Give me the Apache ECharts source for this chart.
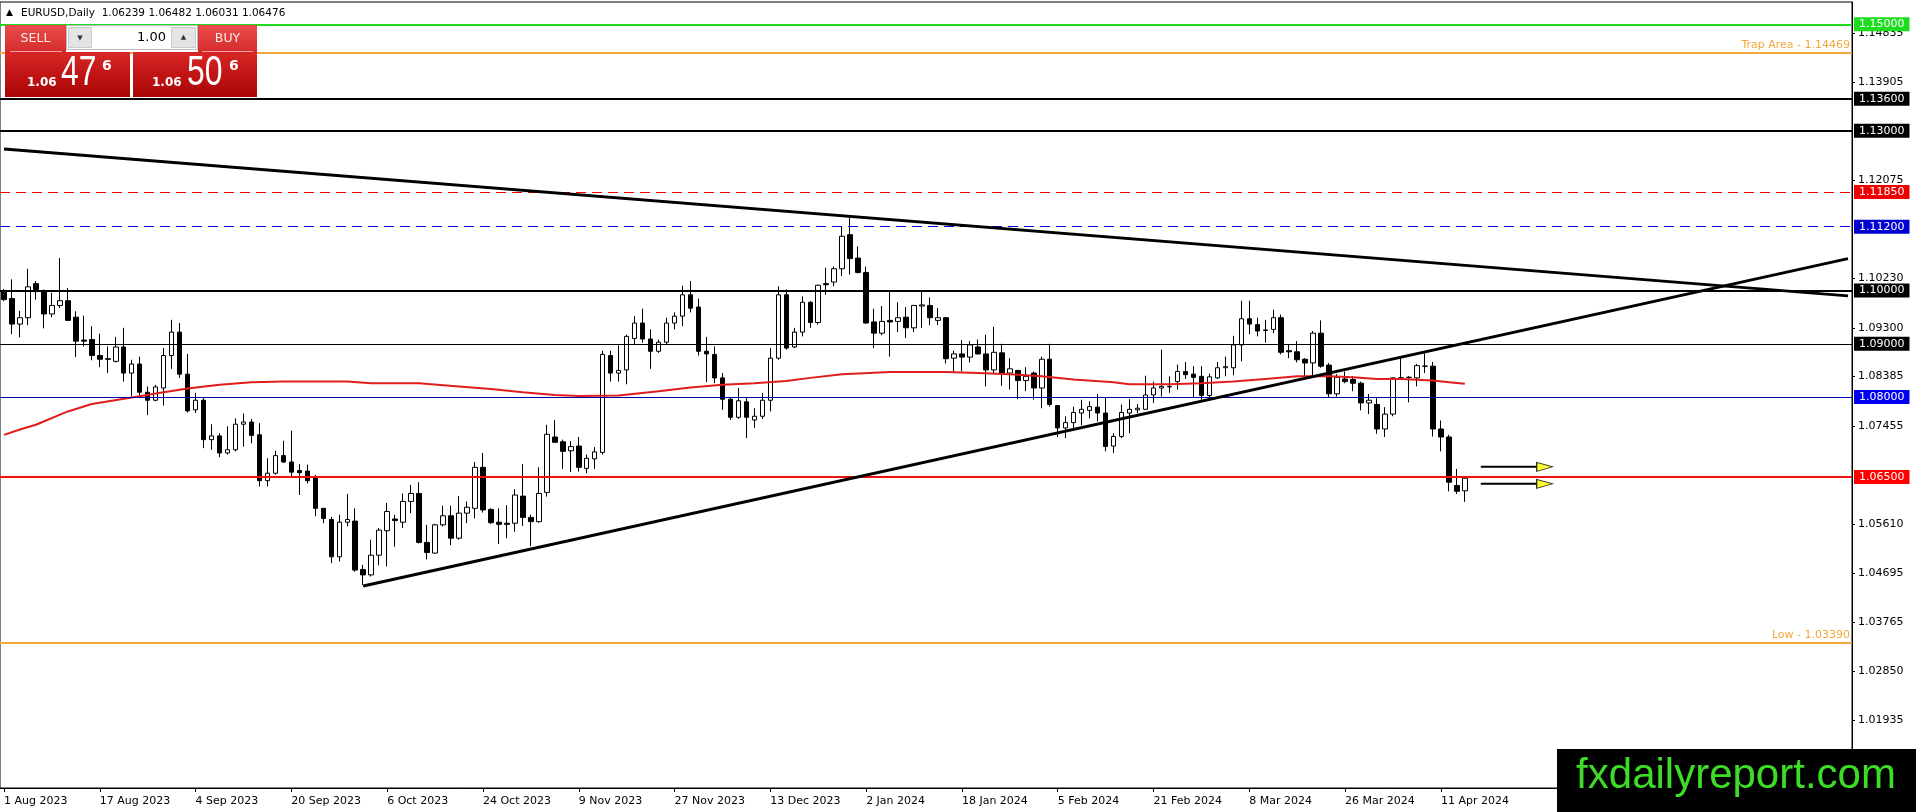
<!DOCTYPE html>
<html>
<head>
<meta charset="utf-8">
<title>EURUSD,Daily</title>
<script src="https://cdn.jsdelivr.net/npm/echarts@6/dist/echarts.min.js"></script>
<style>
html, body { margin: 0; padding: 0; background: #fff; }
#chart { width: 1916px; height: 812px; }
</style>
</head>
<body>
<div id="chart"></div>
<script>
// daily bars from 1 Aug 2023 to 16 Apr 2024
var opens = [
  1.0998,1.0985,1.0937,1.0949,1.1013,1.0999,1.0956,1.0972,1.0981,1.0950,
  1.0907,1.0908,1.0878,1.0872,1.0867,1.0894,1.0845,1.0862,1.0809,1.0794,
  1.0817,1.0878,1.0922,1.0843,1.0776,1.0794,1.0720,1.0727,1.0695,1.0701,
  1.0749,1.0753,1.0729,1.0643,1.0657,1.0690,1.0678,1.0662,1.0661,1.0648,
  1.0591,1.0570,1.0500,1.0565,1.0567,1.0476,1.0466,1.0503,1.0549,1.0571,
  1.0565,1.0604,1.0619,1.0527,1.0507,1.0560,1.0577,1.0535,1.0582,1.0591,
  1.0668,1.0589,1.0565,1.0563,1.0563,1.0614,1.0574,1.0566,1.0621,1.0725,
  1.0716,1.0699,1.0708,1.0666,1.0684,1.0696,1.0878,1.0845,1.0851,1.0910,
  1.0939,1.0909,1.0886,1.0903,1.0939,1.0952,1.0992,1.0969,1.0886,1.0880,
  1.0836,1.0796,1.0762,1.0791,1.0757,1.0764,1.0794,1.0873,1.0992,1.0894,
  1.0922,1.0978,1.0940,1.1013,1.1016,1.1041,1.1105,1.1061,1.1034,1.0941,
  1.0920,1.0944,1.0942,1.0950,1.0930,1.0971,1.0972,1.0944,1.0949,1.0873,
  1.0881,1.0875,1.0894,1.0881,1.0851,1.0883,1.0845,1.0850,1.0831,1.0845,
  1.0817,1.0871,1.0784,1.0742,1.0752,1.0770,1.0775,1.0781,1.0770,1.0708,
  1.0726,1.0770,1.0776,1.0777,1.0804,1.0817,1.0819,1.0829,1.0848,1.0843,
  1.0839,1.0803,1.0836,1.0855,1.0855,1.0898,1.0947,1.0936,1.0926,1.0927,
  1.0949,1.0887,1.0885,1.0871,1.0864,1.0920,1.0860,1.0806,1.0834,1.0833,
  1.0826,1.0789,1.0786,1.0740,1.0768,1.0836,1.0837,1.0836,1.0858,1.0858,
  1.0740,1.0725,1.0634,1.06239
];
var highs = [
  1.1003,1.1021,1.0962,1.1041,1.1018,1.1002,1.0996,1.1061,1.1005,1.0961,
  1.0953,1.0933,1.0919,1.0895,1.0913,1.0930,1.0870,1.0876,1.0820,1.0823,
  1.0892,1.0945,1.0939,1.0881,1.0808,1.0798,1.0749,1.0732,1.0745,1.0760,
  1.0769,1.0759,1.0751,1.0685,1.0699,1.0718,1.0737,1.0674,1.0673,1.0654,
  1.0591,1.0575,1.0579,1.0618,1.0591,1.0485,1.0532,1.0554,1.0601,1.0579,
  1.0619,1.0635,1.0640,1.0560,1.0562,1.0596,1.0596,1.0614,1.0604,1.0678,
  1.0695,1.0591,1.0591,1.0597,1.0627,1.0674,1.0579,1.0668,1.0748,1.0757,
  1.0720,1.0717,1.0725,1.0692,1.0706,1.0887,1.0887,1.0897,1.0917,1.0952,
  1.0966,1.0927,1.0908,1.0949,1.0959,1.1009,1.1018,1.0985,1.0913,1.0895,
  1.0845,1.0798,1.0817,1.0798,1.0779,1.0808,1.0892,1.1008,1.1002,1.0930,
  1.0989,1.0980,1.1011,1.1043,1.1045,1.1121,1.1137,1.1083,1.1045,1.0966,
  1.0971,1.0997,1.0978,1.0969,1.0973,1.0999,1.0987,1.0967,1.0950,1.0887,
  1.0907,1.0905,1.0908,1.0917,1.0932,1.0900,1.0873,1.0851,1.0856,1.0848,
  1.0876,1.0900,1.0784,1.0764,1.0782,1.0795,1.0792,1.0806,1.0800,1.0732,
  1.0786,1.0796,1.0787,1.0840,1.0829,1.0889,1.0839,1.0861,1.0866,1.0858,
  1.0858,1.0844,1.0866,1.0876,1.0915,1.0981,1.0981,1.0949,1.0945,1.0964,
  1.0955,1.0898,1.0905,1.0873,1.0924,1.0944,1.0864,1.0843,1.0848,1.0839,
  1.0829,1.0806,1.0798,1.0781,1.0837,1.0873,1.0839,1.0862,1.0882,1.0866,
  1.0756,1.0729,1.0665,1.06482
];
var lows = [
  1.0980,1.0918,1.0912,1.0935,1.0983,1.0929,1.0950,1.0967,1.0943,1.0875,
  1.0895,1.0869,1.0856,1.0845,1.0865,1.0829,1.0801,1.0801,1.0766,1.0792,
  1.0784,1.0853,1.0836,1.0771,1.0770,1.0704,1.0701,1.0687,1.0692,1.0698,
  1.0707,1.0713,1.0632,1.0632,1.0654,1.0676,1.0651,1.0616,1.0638,1.0576,
  1.0563,1.0488,1.0491,1.0557,1.0472,1.0447,1.0463,1.0484,1.0482,1.0519,
  1.0554,1.0582,1.0525,1.0495,1.0506,1.0557,1.0522,1.0532,1.0563,1.0572,
  1.0583,1.0562,1.0524,1.0535,1.0547,1.0558,1.0520,1.0564,1.0613,1.0715,
  1.0665,1.0659,1.0660,1.0657,1.0665,1.0692,1.0829,1.0829,1.0824,1.0898,
  1.0902,1.0853,1.0883,1.0898,1.0927,1.0933,1.0959,1.0878,1.0828,1.0826,
  1.0776,1.0757,1.0759,1.0723,1.0742,1.0759,1.0773,1.0870,1.0889,1.0892,
  1.0914,1.0930,1.0936,1.0992,1.1008,1.1027,1.1030,1.1032,1.0938,1.0892,
  1.0916,1.0876,1.0922,1.0911,1.0922,1.0930,1.0935,1.0935,1.0863,1.0848,
  1.0848,1.0865,1.0880,1.0820,1.0845,1.0821,1.0814,1.0796,1.0811,1.0795,
  1.0779,1.0782,1.0725,1.0723,1.0739,1.0747,1.0760,1.0754,1.0698,1.0695,
  1.0723,1.0732,1.0770,1.0776,1.0789,1.0801,1.0808,1.0814,1.0834,1.0798,
  1.0795,1.0798,1.0834,1.0839,1.0841,1.0867,1.0918,1.0914,1.0902,1.0920,
  1.0880,1.0873,1.0865,1.0839,1.0839,1.0855,1.0800,1.0801,1.0826,1.0811,
  1.0775,1.0768,1.0731,1.0725,1.0764,1.0833,1.0790,1.0820,1.0845,1.0726,
  1.0698,1.0623,1.0618,1.06031
];
var closes = [
  1.0983,1.0937,1.0949,1.1007,1.1002,1.0956,1.0972,1.0981,1.0944,1.0905,
  1.0905,1.0878,1.0871,1.0871,1.0894,1.0845,1.0862,1.0809,1.0794,1.0819,
  1.0878,1.0922,1.0843,1.0774,1.0794,1.0720,1.0727,1.0695,1.0701,1.0749,
  1.0753,1.0728,1.0643,1.0657,1.0690,1.0678,1.0659,1.0658,1.0643,1.0591,
  1.0572,1.0500,1.0565,1.0570,1.0475,1.0466,1.0503,1.0550,1.0585,1.0568,
  1.0604,1.0619,1.0527,1.0508,1.0560,1.0577,1.0535,1.0582,1.0593,1.0668,
  1.0588,1.0564,1.0561,1.0561,1.0616,1.0574,1.0566,1.0619,1.0730,1.0715,
  1.0698,1.0707,1.0668,1.0685,1.0697,1.0880,1.0845,1.0850,1.0914,1.0939,
  1.0909,1.0886,1.0903,1.0939,1.0952,1.0992,1.0967,1.0886,1.0881,1.0836,
  1.0796,1.0762,1.0793,1.0762,1.0764,1.0794,1.0873,1.0992,1.0892,1.0922,
  1.0978,1.0940,1.1010,1.1011,1.1041,1.1102,1.1060,1.1034,1.0939,1.0920,
  1.0942,1.0941,1.0949,1.0930,1.0972,1.0973,1.0949,1.0949,1.0872,1.0881,
  1.0875,1.0898,1.0881,1.0851,1.0884,1.0845,1.0853,1.0831,1.0839,1.0817,
  1.0871,1.0786,1.0742,1.0752,1.0771,1.0777,1.0782,1.0770,1.0707,1.0726,
  1.0771,1.0777,1.0779,1.0804,1.0817,1.0820,1.0820,1.0848,1.0842,1.0837,
  1.0803,1.0838,1.0855,1.0857,1.0898,1.0947,1.0937,1.0924,1.0925,1.0949,
  1.0884,1.0885,1.0870,1.0864,1.0920,1.0858,1.0806,1.0837,1.0829,1.0826,
  1.0789,1.0794,1.0740,1.0768,1.0836,1.0836,1.0837,1.0859,1.0858,1.0740,
  1.0725,1.0640,1.0623,1.06476
];

// red moving average, sampled at these bar numbers
var maBars = [0,2,4,8,11,16,20,23,27,31,35,43,46,52,57,61,65,69,72,77,82,86,90,94,98,
  101,105,111,118,122,126,130,134,139,141,146,150,154,158,162,166,169,172,175,179,181,183];
var maValues = [1.0729,1.0739,1.0748,1.0773,1.0787,1.0799,1.0809,1.0816,1.0823,1.0828,1.0829,
  1.0829,1.0826,1.0826,1.0820,1.0815,1.0809,1.0804,1.0802,1.0803,1.0811,1.0818,1.0823,1.0826,
  1.0830,1.0836,1.0843,1.0847,1.0847,1.0845,1.0843,1.0839,1.0833,1.0828,1.0824,1.0824,1.0826,
  1.0829,1.0834,1.0839,1.0839,1.0837,1.0834,1.0834,1.0831,1.0828,1.0825];

var xLabels = ['1 Aug 2023','17 Aug 2023','4 Sep 2023','20 Sep 2023','6 Oct 2023','24 Oct 2023',
  '9 Nov 2023','27 Nov 2023','13 Dec 2023','2 Jan 2024','18 Jan 2024','5 Feb 2024',
  '21 Feb 2024','8 Mar 2024','26 Mar 2024','11 Apr 2024'];
var priceTicks = [1.14835,1.13905,1.12075,1.10230,1.09300,1.08385,1.07455,1.05610,1.04695,1.03765,1.02850,1.01935];

// horizontal levels drawn on the chart
var levelPrices = [1.15000,1.14469,1.13600,1.13000,1.11850,1.11200,1.10000,1.09000,1.08000,1.06500,1.03390];
var levelNames = ['','Trap Area','','','','','','','','','Low'];

// trend lines [bar, price]
var trendDown = [[0,1.1266],[231,1.0990]];
var trendUp = [[45,1.0445],[231,1.1060]];
var arrowPrices = [1.0669,1.0637];
var arrowBars = [185,192,193];

var totalSlots = 232;
var yMin = 1.00658, yMax = 1.15419;

var FONT = 'DejaVu Sans';

var cats = [];
for (var i = 0; i < totalSlots; i++) { cats.push(String(i)); }

var candles = [];
for (var i = 0; i < opens.length; i++) {
    candles.push([opens[i], closes[i], lows[i], highs[i]]);
}

var maData = [];
for (var i = 0; i < maBars.length; i++) { maData.push([maBars[i], maValues[i]]); }

// look of each level line
var levelLook = [
    {c:'#1edc1e', w:2, t:'solid', tag:true},
    {c:'#f2a63c', w:2, t:'solid', tag:false},
    {c:'#000000', w:2, t:'solid', tag:true},
    {c:'#000000', w:2, t:'solid', tag:true},
    {c:'#ee0000', w:1, t:[10,6], tag:true},
    {c:'#0000d0', w:1, t:[10,6], tag:true},
    {c:'#000000', w:2, t:'solid', tag:true},
    {c:'#000000', w:1, t:'solid', tag:true},
    {c:'#0000a8', w:1, t:'solid', tag:true, bg:'#0000f0'},
    {c:'#ee1111', w:2, t:'solid', tag:true, bg:'#ff0000'},
    {c:'#f2a63c', w:2, t:'solid', tag:false}
];

var levelLines = [];
for (var i = 0; i < levelPrices.length; i++) {
    var lk = levelLook[i];
    var item = {
        yAxis: levelPrices[i],
        lineStyle: {color: lk.c, width: lk.w, type: lk.t}
    };
    if (lk.tag) {
        item.label = {
            show: true, position: 'end', distance: 2,
            formatter: levelPrices[i].toFixed(5),
            color: '#fff', backgroundColor: lk.bg || lk.c,
            padding: [1,5,1,5], fontFamily: FONT, fontSize: 11, lineHeight: 12
        };
    } else {
        item.label = {
            show: true, position: 'insideEndTop', distance: 2,
            formatter: levelNames[i] + ' - ' + levelPrices[i].toFixed(5),
            color: lk.c, fontFamily: FONT, fontSize: 11
        };
    }
    levelLines.push(item);
}

function showLabel(index) {
    return index % 12 === 0 && index / 12 < xLabels.length;
}

var series = [];
series.push({
    name: 'EURUSD', type: 'candlestick', data: candles, barWidth: 5,
    itemStyle: {color:'#ffffff', color0:'#000000', borderColor:'#000000', borderColor0:'#000000', borderWidth:1},
    markLine: {silent: true, precision: 5, symbol: ['none','none'], animation: false, data: levelLines},
    z: 3
});
series.push({
    name: 'MA', type: 'line', data: maData, showSymbol: false, symbol: 'none',
    lineStyle: {color:'#e01c1c', width: 2}, z: 4
});
series.push({
    name: 'down', type: 'line', data: trendDown, symbol: 'none',
    lineStyle: {color:'#000', width: 3}, z: 5
});
series.push({
    name: 'up', type: 'line', data: trendUp, symbol: 'none',
    lineStyle: {color:'#000', width: 3}, z: 5
});
for (var k = 0; k < arrowPrices.length; k++) {
    series.push({
        type: 'line', symbol: 'none', z: 6,
        data: [[arrowBars[0], arrowPrices[k]], [arrowBars[1], arrowPrices[k]]],
        lineStyle: {color:'#000', width: 2}
    });
    series.push({
        type: 'scatter', z: 7, data: [[arrowBars[2], arrowPrices[k]]],
        symbol: 'path://M0,0 L16,5 L0,10 Z', symbolSize: [16, 9],
        itemStyle: {color:'#ffff00', borderColor:'#000', borderWidth: 1}
    });
}

var redTab = {type:'linear', x:0, y:0, x2:0, y2:1,
    colorStops:[{offset:0, color:'#ea4c4c'}, {offset:1, color:'#d42c2c'}]};
var redBox = {type:'linear', x:0, y:0, x2:0, y2:1,
    colorStops:[{offset:0, color:'#d82626'}, {offset:1, color:'#a90404'}]};
var bigFont = "'Liberation Sans', sans-serif";

var graphics = [
    {type:'text', z: 100, x: 6, y: 13, style:{text:'\u25B2', font:'9px ' + FONT, fill:'#000', verticalAlign:'middle'}},
    {type:'text', z: 100, x: 21, y: 13, style:{text:'EURUSD,Daily  1.06239 1.06482 1.06031 1.06476', font:'10.5px ' + FONT, fill:'#000', verticalAlign:'middle'}},
    // sell / buy panel
    {type:'rect', z: 100, shape:{x:5, y:25, width:61, height:27}, style:{fill: redTab}},
    {type:'rect', z: 100, shape:{x:198, y:25, width:59, height:27}, style:{fill: redTab}},
    {type:'rect', z: 100, shape:{x:5, y:52, width:125, height:45}, style:{fill: redBox}},
    {type:'rect', z: 100, shape:{x:133, y:52, width:124, height:45}, style:{fill: redBox}},
    {type:'line', z: 101, shape:{x1:10, y1:51.5, x2:62, y2:51.5}, style:{stroke:'#f4a0a0', lineWidth:1}},
    {type:'line', z: 101, shape:{x1:202, y1:51.5, x2:253, y2:51.5}, style:{stroke:'#f4a0a0', lineWidth:1}},
    {type:'text', z: 101, x: 35.5, y: 39, style:{text:'SELL', font:'12.5px ' + FONT, fill:'#ffeaea', align:'center', verticalAlign:'middle'}},
    {type:'text', z: 101, x: 227.5, y: 39, style:{text:'BUY', font:'12.5px ' + FONT, fill:'#ffeaea', align:'center', verticalAlign:'middle'}},
    {type:'rect', z: 100, shape:{x:66.5, y:25.5, width:131, height:24}, style:{fill:'#ffffff', stroke:'#bcbcbc'}},
    {type:'rect', z: 101, shape:{x:68.5, y:27.5, width:23, height:20}, style:{fill:'#e4e4e4', stroke:'#cccccc'}},
    {type:'rect', z: 101, shape:{x:171.5, y:27.5, width:24, height:20}, style:{fill:'#e4e4e4', stroke:'#cccccc'}},
    {type:'text', z: 102, x: 80, y: 38, style:{text:'\u25BC', font:'7px ' + FONT, fill:'#333', align:'center', verticalAlign:'middle'}},
    {type:'text', z: 102, x: 183.5, y: 37, style:{text:'\u25B2', font:'7px ' + FONT, fill:'#333', align:'center', verticalAlign:'middle'}},
    {type:'text', z: 102, x: 166, y: 37.5, style:{text:'1.00', font:'13px ' + FONT, fill:'#000', align:'right', verticalAlign:'middle'}},
    {type:'text', z: 102, x: 27, y: 83, style:{text:'1.06', font:'bold 12px ' + FONT, fill:'#fff', align:'left', verticalAlign:'middle'}},
    {type:'text', z: 102, x: 61, y: 73, scaleX: 0.76, style:{text:'47', font:'42px ' + bigFont, fill:'#fff', align:'left', verticalAlign:'middle'}},
    {type:'text', z: 102, x: 102, y: 66, style:{text:'6', font:'bold 14px ' + FONT, fill:'#fff', align:'left', verticalAlign:'middle'}},
    {type:'text', z: 102, x: 152, y: 83, style:{text:'1.06', font:'bold 12px ' + FONT, fill:'#fff', align:'left', verticalAlign:'middle'}},
    {type:'text', z: 102, x: 187, y: 73, scaleX: 0.76, style:{text:'50', font:'42px ' + bigFont, fill:'#fff', align:'left', verticalAlign:'middle'}},
    {type:'text', z: 102, x: 229, y: 66, style:{text:'6', font:'bold 14px ' + FONT, fill:'#fff', align:'left', verticalAlign:'middle'}},
    // watermark
    {type:'rect', z: 110, shape:{x:1557, y:749, width:359, height:63}, style:{fill:'#000'}},
    {type:'text', z: 111, x: 1736, y: 776, style:{text:'fxdailyreport.com', font:"42px 'Liberation Sans', sans-serif", fill:'#3ddc26', align:'center', verticalAlign:'middle'}}
];

var chart = echarts.init(document.getElementById('chart'));
var option = {
    animation: false,
    backgroundColor: '#ffffff',
    grid: {left: 0, right: 64, top: 2, bottom: 24, show: true, borderColor: '#000', borderWidth: 1},
    xAxis: {
        type: 'category', data: cats, boundaryGap: true,
        axisLine: {show: true, lineStyle: {color: '#000'}},
        axisTick: {show: true, alignWithLabel: true, interval: showLabel, length: 4, lineStyle: {color: '#000'}},
        axisLabel: {
            interval: showLabel, align: 'left', margin: 8, color: '#000',
            fontFamily: FONT, fontSize: 11,
            formatter: function (value, index) { return xLabels[index / 12] || ''; }
        },
        splitLine: {show: false}
    },
    yAxis: {
        type: 'value', position: 'right', min: yMin, max: yMax, scale: true,
        axisLine: {show: true, lineStyle: {color: '#000'}},
        axisTick: {show: true, length: 3, customValues: priceTicks, lineStyle: {color: '#000'}},
        axisLabel: {
            customValues: priceTicks, margin: 6, color: '#000', fontFamily: FONT, fontSize: 11,
            formatter: function (v) { return v.toFixed(5); }
        },
        splitLine: {show: false}
    },
    graphic: graphics,
    series: series
};
chart.setOption(option);
</script>
</body>
</html>
